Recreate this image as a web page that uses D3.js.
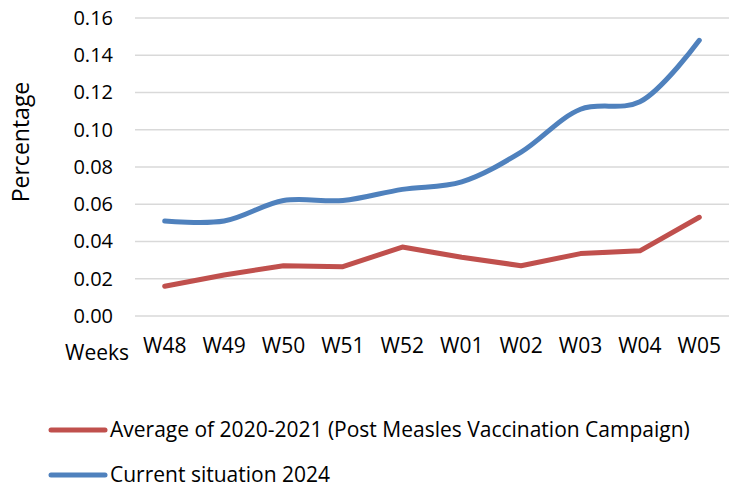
<!DOCTYPE html>
<html>
<head>
<meta charset="utf-8">
<script src="https://cdn.jsdelivr.net/npm/d3@7"></script>
<style>
  body { margin: 0; background: white; }
  text { font-family: "Open Sans", "Noto Sans", sans-serif; fill: #000; }
</style>
</head>
<body>
<script>
// Data
const weeks = ["W48", "W49", "W50", "W51", "W52", "W01", "W02", "W03", "W04", "W05"];
const average2020_2021 = [0.016, 0.022, 0.027, 0.0265, 0.037, 0.0315, 0.027, 0.0335, 0.035, 0.053];
const current2024 = [0.051, 0.051, 0.062, 0.062, 0.068, 0.072, 0.088, 0.111, 0.115, 0.148];
const yTicks = [0, 0.02, 0.04, 0.06, 0.08, 0.10, 0.12, 0.14, 0.16];
const seriesNames = ["Average of 2020-2021 (Post Measles Vaccination Campaign)", "Current situation 2024"];

const outerWidth = 741, outerHeight = 489;
const margin = {left: 135, top: 18, right: 12, bottom: 173};
const width = outerWidth - margin.left - margin.right;
const height = outerHeight - margin.top - margin.bottom;

const svg = d3.select("body").append("svg")
    .attr("width", outerWidth)
    .attr("height", outerHeight);

const canvas = svg.append("g")
    .attr("transform", `translate(${margin.left}, ${margin.top})`);

// Scales
const xScale = d3.scaleBand().domain(weeks).range([0, width]);
const yScale = d3.scaleLinear().domain([0, 0.16]).range([height, 0]);

// Gridlines
canvas.selectAll(".grid")
    .data(yTicks)
    .join("line")
    .attr("class", "grid")
    .attr("x1", 0).attr("x2", width)
    .attr("y1", d => yScale(d)).attr("y2", d => yScale(d))
    .attr("stroke", "#d9d9d9")
    .attr("stroke-width", 1.3);

// Axes
const yAxis = d3.axisLeft(yScale).tickValues(yTicks).tickFormat(d3.format(".2f")).tickSize(0).tickPadding(22);
const yAxisGroup = canvas.append("g").call(yAxis);
yAxisGroup.select(".domain").remove();
yAxisGroup.selectAll("text").style("font-size", "20px");

const xAxis = d3.axisBottom(xScale).tickSize(0).tickPadding(22);
const xAxisGroup = canvas.append("g")
    .attr("transform", `translate(0, ${height})`)
    .call(xAxis);
xAxisGroup.select(".domain").remove();
xAxisGroup.selectAll("text").style("font-size", "21px");

// Axis labels
svg.append("text")
    .text("Weeks")
    .attr("x", 65).attr("y", 360)
    .style("font-size", "21px");

svg.append("text")
    .text("Percentage")
    .style("text-anchor", "middle")
    .attr("transform", `translate(29, 142) rotate(-90)`)
    .style("font-size", "23px");

// Lines
const cx = (d, i) => xScale(weeks[i]) + xScale.bandwidth() / 2;

const redLine = d3.line().x(cx).y(d => yScale(d));
const blueLine = d3.line().x(cx).y(d => yScale(d)).curve(d3.curveCatmullRom.alpha(0.5));

canvas.append("path")
    .datum(average2020_2021)
    .attr("fill", "none")
    .attr("stroke", "#c0504d")
    .attr("stroke-width", 5)
    .attr("stroke-linecap", "round")
    .attr("stroke-linejoin", "round")
    .attr("d", redLine);

canvas.append("path")
    .datum(current2024)
    .attr("fill", "none")
    .attr("stroke", "#4f81bd")
    .attr("stroke-width", 5)
    .attr("stroke-linecap", "round")
    .attr("d", blueLine);

// Legend
const legendColors = ["#c0504d", "#4f81bd"];
const legend = svg.selectAll(".legend")
    .data(seriesNames)
    .join("g")
    .attr("class", "legend")
    .attr("transform", (d, i) => `translate(51, ${430 + i * 45})`);

legend.append("line")
    .attr("x1", 0).attr("x2", 54)
    .attr("stroke", (d, i) => legendColors[i])
    .attr("stroke-width", 5)
    .attr("stroke-linecap", "round");

legend.append("text")
    .text(d => d)
    .attr("x", 59)
    .attr("dy", "0.33em")
    .style("font-size", "21px");
</script>
</body>
</html>
